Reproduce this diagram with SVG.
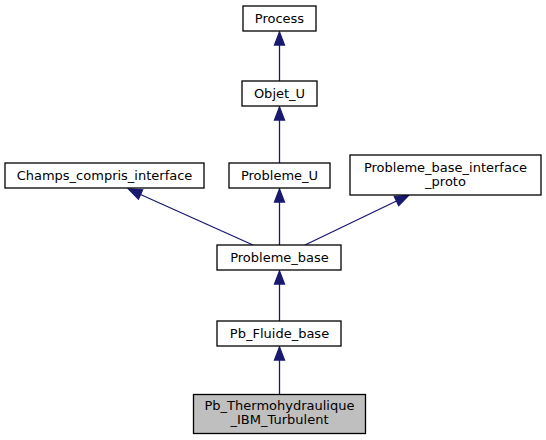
<svg xmlns="http://www.w3.org/2000/svg" width="546" height="440" viewBox="0 0 546 440">
<defs>
<style>
.node rect{fill:#ffffff;stroke:#000000;stroke-width:1.3}
.node.hl rect{fill:#bfbfbf}
.node text{font-family:"DejaVu Sans",sans-serif;font-size:13px;text-anchor:middle;fill:#000000}
.edge line{stroke:#191970;stroke-width:1.3;fill:none}
.edge polygon{fill:#191970;stroke:#191970;stroke-width:1.3}
</style>
</defs>
<rect width="546" height="440" fill="#ffffff"/>
<g id="connectors" class="edge">
<line x1="279.5" y1="81" x2="279.5" y2="45"/>
<polygon points="279.5,32 274.5,45 284.5,45"/>
<line x1="279.5" y1="163" x2="279.5" y2="120"/>
<polygon points="279.5,107 274.5,120 284.5,120"/>
<line x1="279.5" y1="245" x2="279.5" y2="202"/>
<polygon points="279.5,189 274.5,202 284.5,202"/>
<line x1="253" y1="245" x2="140.5" y2="194.5"/>
<polygon points="128.5,189 142.6,189.9 138.4,199.1"/>
<line x1="305" y1="245" x2="396.5" y2="201"/>
<polygon points="408.5,195.5 398.7,205.6 394.3,196.4"/>
<line x1="279.5" y1="321" x2="279.5" y2="284"/>
<polygon points="279.5,271 274.5,284 284.5,284"/>
<line x1="279.5" y1="394.5" x2="279.5" y2="360"/>
<polygon points="279.5,347 274.5,360 284.5,360"/>
</g>
<g id="node-process" class="node"><rect x="243" y="6" width="73" height="25"/><text x="279.5" y="23">Process</text></g>
<g id="node-objet_u" class="node"><rect x="242" y="81" width="75" height="25"/><text x="279.5" y="98">Objet_U</text></g>
<g id="node-champs" class="node"><rect x="5" y="163" width="199" height="25"/><text x="104.5" y="180">Champs_compris_interface</text></g>
<g id="node-probleme_u" class="node"><rect x="229" y="163" width="101" height="25"/><text x="279.5" y="180">Probleme_U</text></g>
<g id="node-pbip" class="node"><rect x="350" y="155" width="191" height="40"/><text x="445.5" y="172">Probleme_base_interface</text><text x="445.5" y="186">_proto</text></g>
<g id="node-probleme_base" class="node"><rect x="217" y="245" width="124" height="25"/><text x="279.5" y="262">Probleme_base</text></g>
<g id="node-pb_fluide" class="node"><rect x="217" y="321" width="124" height="25"/><text x="279.5" y="338">Pb_Fluide_base</text></g>
<g id="node-pb_thermo" class="node hl"><rect x="193.5" y="394.5" width="172" height="39"/><text x="279.5" y="410">Pb_Thermohydraulique</text><text x="279.5" y="424">_IBM_Turbulent</text></g>
</svg>
